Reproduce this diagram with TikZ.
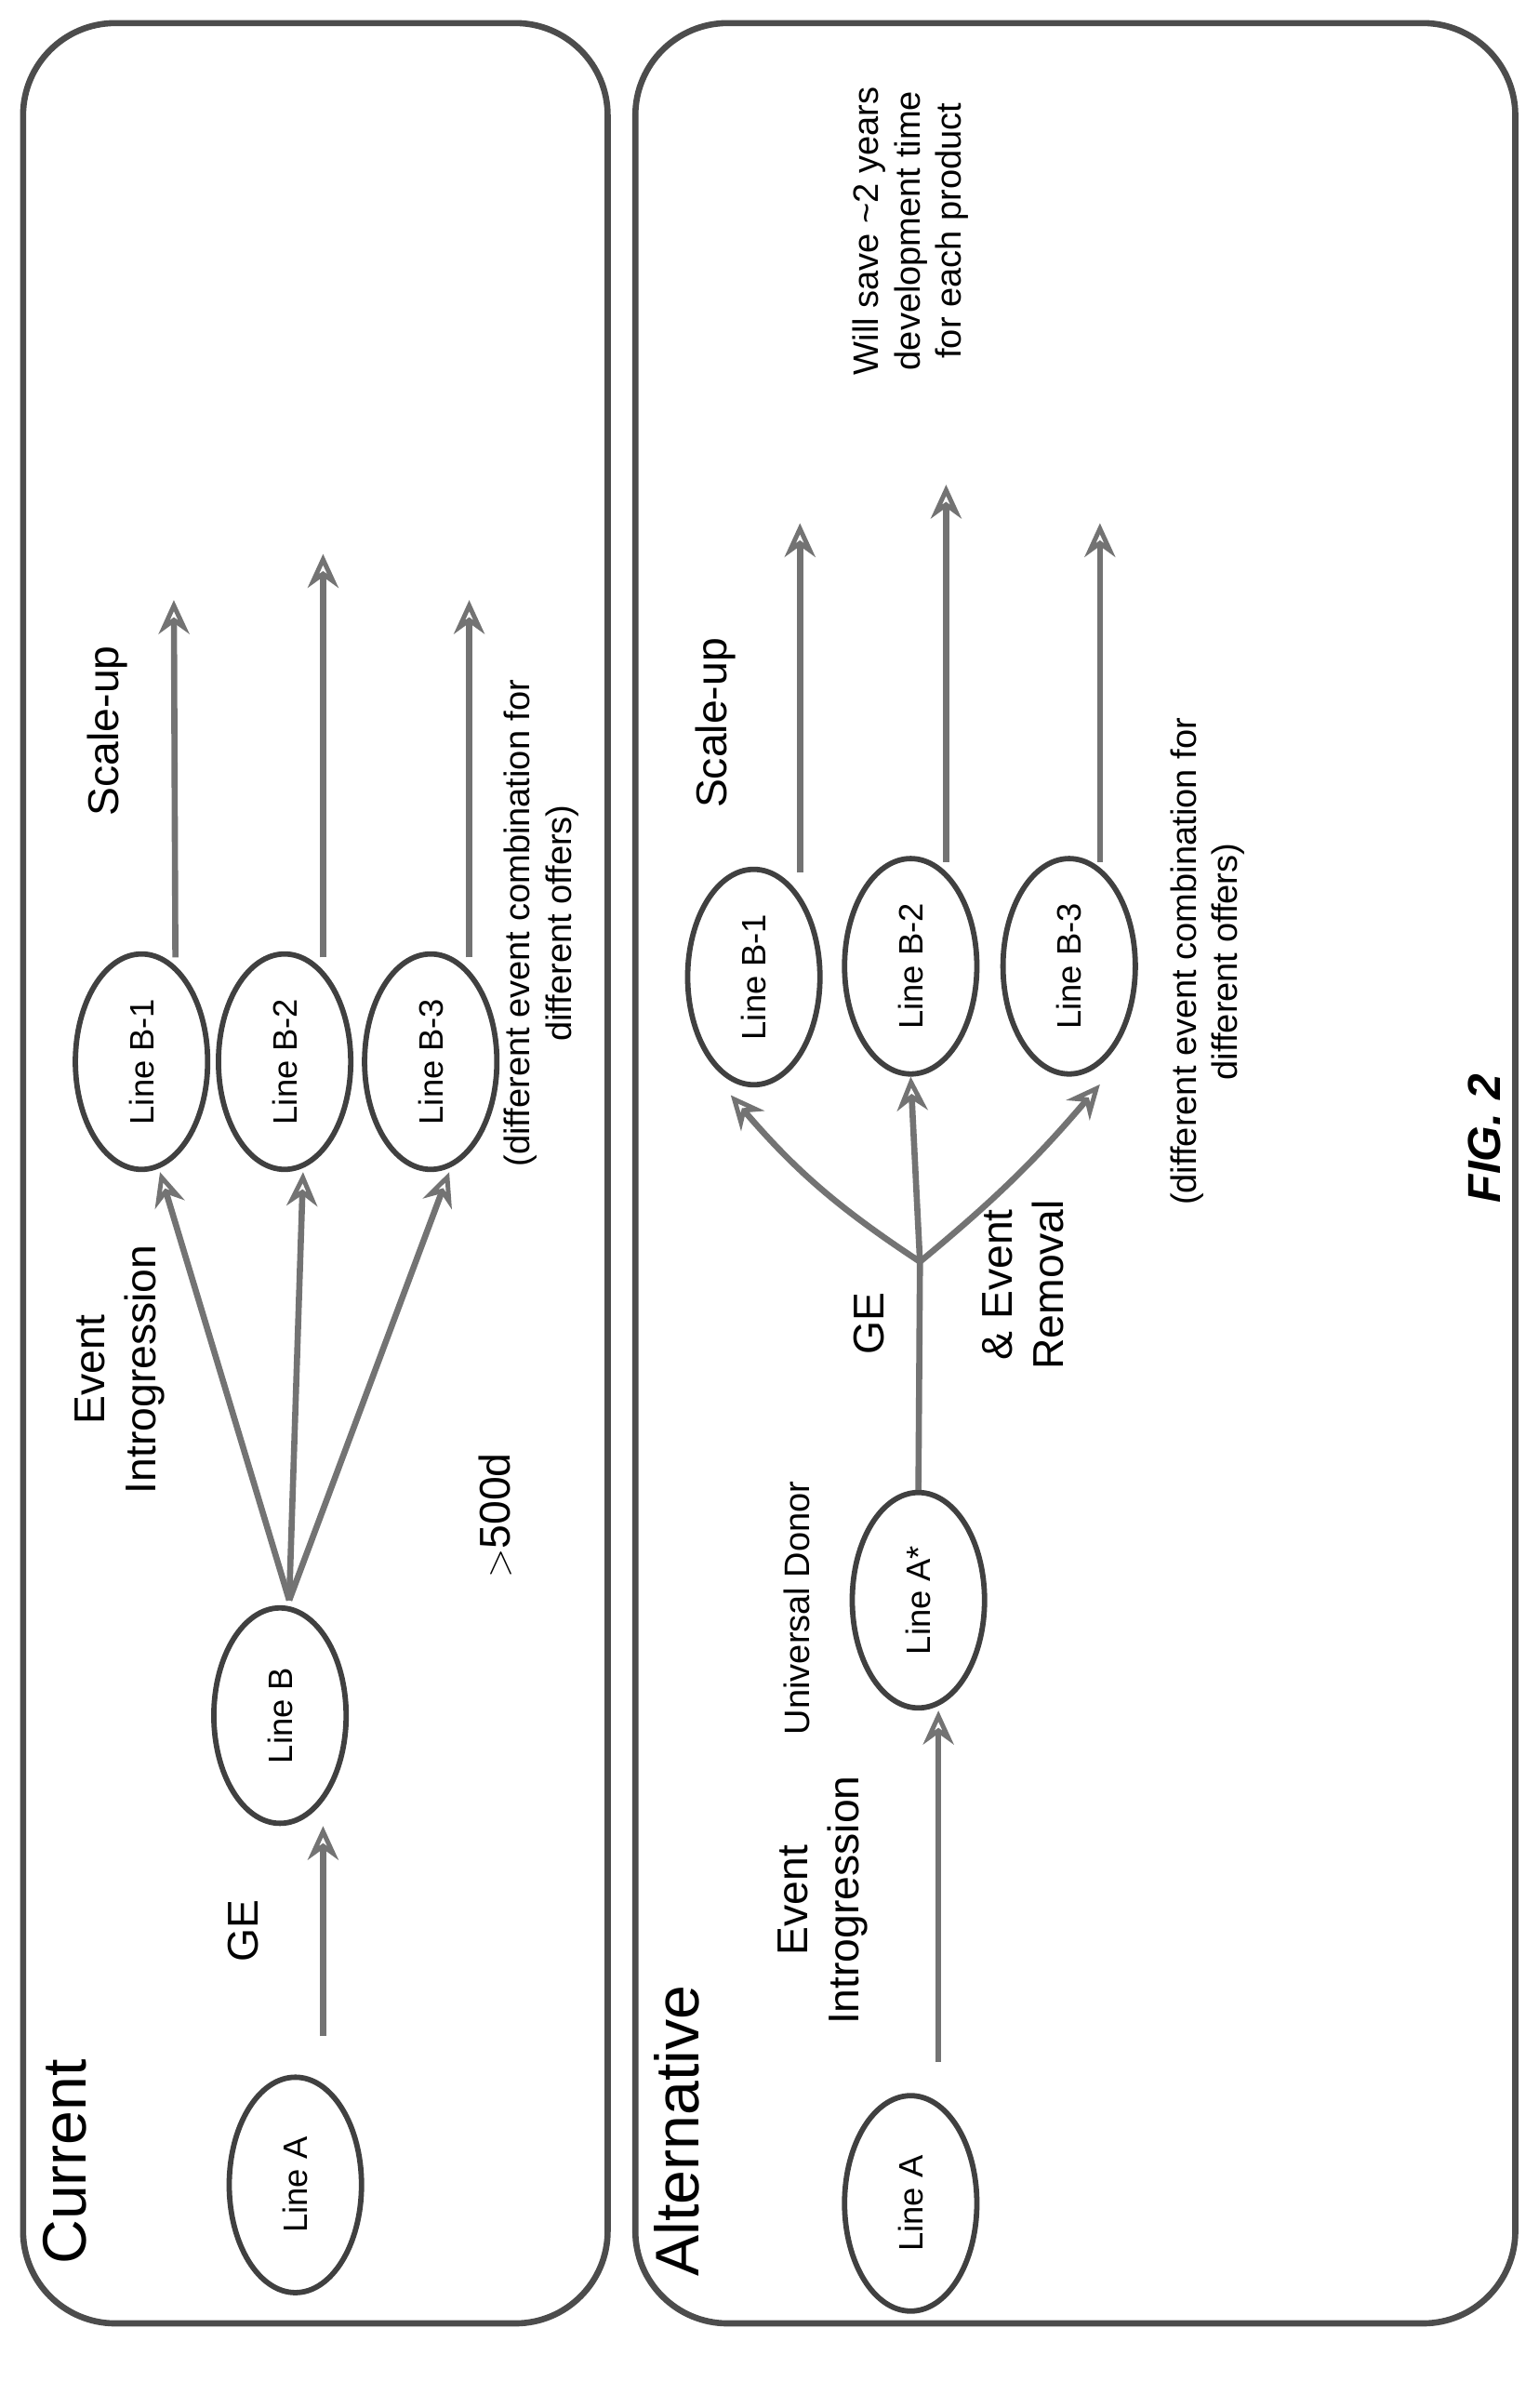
\documentclass[tikz,border=0pt]{standalone}
\usepackage{fontspec}
\setmainfont{Liberation Sans}
\usetikzlibrary{shapes.geometric,arrows.meta,calc}
\begin{document}
\begin{tikzpicture}[x=1pt,y=-1pt]

 \tikzset{
    line/.style={
      ellipse,
      minimum width=140pt,
      minimum height=86pt,
      inner sep=0pt,
      rotate=90,
      line width=3.5pt,
      draw=black!75,
      font=\fontsize{22}{24}\selectfont
    },
    lab/.style={rotate=90, align=center, font=\fontsize{28}{33}\selectfont},
    small/.style={rotate=90, align=center, font=\fontsize{23}{27}\selectfont},
    arr/.style={-{Stealth[length=22pt,width=20pt,open,line width=3pt]}, line width=4pt, draw=black!55},
    frame/.style={rounded corners=60pt, line width=4pt, draw=black!70}
  }

\useasboundingbox (0,0) rectangle (1000,1565);

\draw[frame] (15,15) rectangle (395,1510);
\draw[frame] (413,15) rectangle (985,1510);

% Current
\node[rotate=90, font=\fontsize{40}{44}\selectfont] (cur) at (42,1405) {Current};
\node[line] (ca) at (192,1420) {Line A};
\node[line] (cb) at (182,1115) {Line B};
\node[line] (cb1) at (92,690) {Line B-1};
\node[line] (cb2) at (185,690) {Line B-2};
\node[line] (cb3) at (280,690) {Line B-3};

\node[lab] (cge) at (158,1255) {GE};
\node[lab] (cei) at (78,890) {Event\\Introgression};
\node[lab] (c500) at (322,985) {$>$500d};
\node[small] (cdiff) at (352,600) {(different event combination for\\different offers)};
\node[lab] (csu) at (70,475) {Scale-up};

\coordinate (cj) at (188,1040);
\coordinate (cs1) at (113,390);
\coordinate (cs2) at (210,360);
\coordinate (cs3) at (305,390);

\draw[arr] ([xshift=18pt,yshift=25pt]ca.east) -- ([xshift=28pt]cb.west);
\foreach \n in {1,2,3}
    \draw[arr] (cj) -- ([xshift=12pt]cb\n.west);
\draw[arr] ([xshift=22pt,yshift=-4pt]cb1.east) -- (cs1);
\draw[arr] ([xshift=25pt,yshift=-4pt]cb2.east) -- (cs2);
\draw[arr] ([xshift=25pt,yshift=-4pt]cb3.east) -- (cs3);

% Alternative
\node[rotate=90, font=\fontsize{40}{44}\selectfont] (alt) at (440,1385) {Alternative};
\node[line] (aa) at (592,1432) {Line A};
\node[line] (aas) at (597,1040) {Line A*};
\node[line] (ab1) at (490,635) {Line B-1};
\node[line] (ab2) at (592,628) {Line B-2};
\node[line] (ab3) at (695,628) {Line B-3};

\node[lab] (aei) at (535,1235) {Event\\Introgression};
\node[small] (aud) at (518,1045) {Universal Donor};
\node[lab] (age) at (565,860) {GE};
\node[lab] (aer) at (665,835) {\& Event\\Removal};
\node[small] (adiff) at (785,625) {(different event combination for\\different offers)};
\node[lab] (asu) at (465,470) {Scale-up};
\node[small] (asave) at (592,150) {Will save \textasciitilde2 years\\development time\\for each product};

\coordinate (aj) at (598,820);
\coordinate (as1) at (520,340);
\coordinate (as2) at (615,315);
\coordinate (as3) at (715,340);

\draw[arr] ([xshift=18pt,yshift=20pt]aa.east) -- ([xshift=13pt]aas.west);
\draw[line width=4pt, draw=black!55] (aas.east) -- (aj);
\draw[arr] (aj) to[bend left=8] ([xshift=-15pt,yshift=-5pt]ab1.west);
\draw[arr] (aj) -- (ab2.west);
\draw[arr] (aj) to[bend right=5] ([xshift=20pt,yshift=-5pt]ab3.west);
\draw[arr] ([xshift=30pt,yshift=-4pt]ab1.east) -- (as1);
\draw[arr] ([xshift=23pt,yshift=-4pt]ab2.east) -- (as2);
\draw[arr] ([xshift=20pt,yshift=-4pt]ab3.east) -- (as3);

\node[rotate=90, font=\fontsize{30}{34}\selectfont\bfseries\itshape] (fig) at (965,740) {FIG. 2};

\end{tikzpicture}
\end{document}
